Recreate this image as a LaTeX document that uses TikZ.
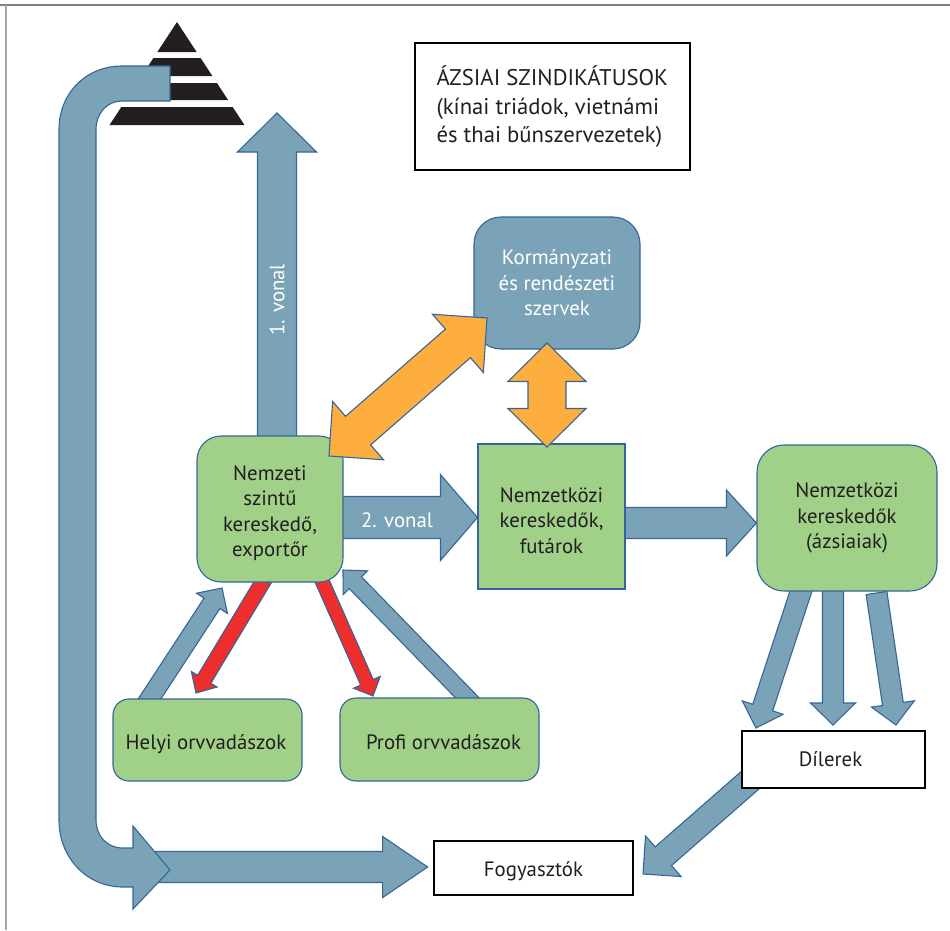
\documentclass[tikz,border=0pt]{standalone}
\usepackage{fontspec}
\setmainfont{PT Sans}
\usetikzlibrary{calc,backgrounds}

\definecolor{kekfill}{HTML}{7BA3B8}
\definecolor{kekvonal}{HTML}{34659B}
\definecolor{zold}{HTML}{A1D088}
\definecolor{narancs}{HTML}{FDAE3E}
\definecolor{piros}{HTML}{EE2D2D}
\definecolor{szoveg}{HTML}{231F20}

\tikzset{
    felirat/.style={font=\fontsize{20.8pt}{25.5pt}\selectfont,text=szoveg,align=center,inner sep=0pt},
    zoldbox/.style={felirat,draw=kekvonal,fill=zold,line width=1.1pt},
    feherbox/.style={felirat,draw=black,fill=white,line width=1.7pt},
    kekbox/.style={felirat,draw=kekvonal,fill=kekfill,line width=1.1pt,text=white,rounded corners=27pt},
    feherszoveg/.style={felirat,text=white},
    kekfolyam/.style={draw=kekvonal,fill=kekfill,line width=1.1pt,line join=miter},
    pirosfolyam/.style={draw=kekvonal,fill=piros,line width=1.1pt,line join=miter},
    narancsfolyam/.style={draw=kekvonal,fill=narancs,line width=1.1pt,line join=miter},
}

% kezdet, csucs, fel szar, fel fej, fej hossz
\newcommand{\folyam}[6][kekfolyam]{%
    \coordinate (fejalap) at ($(#3)!#6!(#2)$);
    \draw[#1] ($(#2)!#4!90:(#3)$) -- ($(fejalap)!#4!-90:(#2)$) -- ($(fejalap)!#5!-90:(#2)$) -- (#3)
    -- ($(fejalap)!#5!90:(#2)$) -- ($(fejalap)!#4!90:(#2)$) -- ($(#2)!#4!-90:(#3)$) -- cycle;
}
\newcommand{\ketfolyam}[6][narancsfolyam]{%
    \coordinate (fejA) at ($(#2)!#6!(#3)$);
    \coordinate (fejB) at ($(#3)!#6!(#2)$);
    \draw[#1] (#2) -- ($(fejA)!#5!90:(#3)$) -- ($(fejA)!#4!90:(#3)$) -- ($(fejB)!#4!-90:(#2)$) -- ($(fejB)!#5!-90:(#2)$)
    -- (#3) -- ($(fejB)!#5!90:(#2)$) -- ($(fejB)!#4!90:(#2)$) -- ($(fejA)!#4!-90:(#3)$) -- ($(fejA)!#5!-90:(#3)$) -- cycle;
}

\begin{document}
\begin{tikzpicture}[x=1pt,y=-1pt]
    \useasboundingbox (0,0) rectangle (950,930);

    \node[feherbox,minimum width=275pt,minimum height=127pt] (szindikatus) at (552.5,106.5)
        {\parbox{232pt}{\raggedright\fontsize{22.7pt}{28.5pt}\selectfont\rule{0pt}{20pt}ÁZSIAI SZINDIKÁTUSOK\\(kínai triádok, vietnámi\\és thai bűnszervezetek)}};
    \node[kekbox,minimum width=166pt,minimum height=132pt] (korm) at (557,283) {Kormányzati\\és rendészeti\\szervek};
    \node[zoldbox,rounded corners=24pt,minimum width=146pt,minimum height=146pt] (nemzeti) at (270,509) {\rule{0pt}{23pt}Nemzeti\\szintű\\kereskedő,\\exportőr};
    \node[zoldbox,minimum width=147pt,minimum height=145pt] (futar) at (551.5,516.5) {\rule{0pt}{23pt}Nemzetközi\\kereskedők,\\futárok};
    \node[zoldbox,rounded corners=27pt,minimum width=180pt,minimum height=146pt] (azsiai) at (847,518) {Nemzetközi\\kereskedők\\(ázsiaiak)};
    \node[zoldbox,rounded corners=16pt,minimum width=189pt,minimum height=82pt] (helyi) at (207.5,740) {\rule{0pt}{24pt}Helyi orvvadászok\hspace*{3pt}};
    \node[zoldbox,rounded corners=16pt,minimum width=199pt,minimum height=83pt] (profi) at (439.5,739.5) {\rule{0pt}{21pt}\hspace*{8pt}Profi orvvadászok};
    \node[feherbox,minimum width=183pt,minimum height=57pt] (diler) at (833.5,759.5) {Dílerek\hspace*{6pt}};
    \node[feherbox,minimum width=199pt,minimum height=54pt] (fogyaszto) at (533.5,868) {\rule{0pt}{21pt}Fogyasztók};

    \coordinate (v1ki) at ([xshift=7pt]nemzeti.center);
    \coordinate (v1be) at (277,113);
    \coordinate (v2ki) at ([yshift=-8.5pt]nemzeti.center);
    \coordinate (v2be) at ([yshift=-1pt]futar.west);
    \coordinate (futarki) at ([yshift=-6.5pt]futar.center);
    \coordinate (futarbe) at ([yshift=-5pt]azsiai.west);
    \coordinate (helyiki) at ([xshift=-63.5pt,yshift=32.6pt]helyi.center);
    \coordinate (helyibe) at ([xshift=-48pt,yshift=-79pt]nemzeti.center);
    \coordinate (profiki) at ([xshift=35pt,yshift=34.3pt]profi.center);
    \coordinate (profibe) at ([xshift=73pt,yshift=-61pt]nemzeti.center);
    \coordinate (pirosAki) at ([xshift=-3pt,yshift=-66pt]nemzeti.center);
    \coordinate (pirosAbe) at ([xshift=-11.5pt,yshift=47pt]helyi.center);
    \coordinate (pirosBki) at ([xshift=49.3pt,yshift=-65.7pt]nemzeti.center);
    \coordinate (pirosBbe) at ([xshift=-66.5pt,yshift=43.5pt]profi.center);
    \coordinate (dilerAki) at ([xshift=-43.5pt,yshift=-65.4pt]azsiai.center);
    \coordinate (dilerAbe) at ([xshift=-77.5pt,yshift=31.5pt]diler.center);
    \coordinate (dilerBki) at ([xshift=-14pt]azsiai.center);
    \coordinate (dilerBbe) at ([xshift=-.5pt,yshift=34.5pt]diler.center);
    \coordinate (dilerCki) at (876.5,593);
    \coordinate (dilerCbe) at ([xshift=62.5pt,yshift=34.5pt]diler.center);
    \coordinate (fogyki) at ([xshift=-67.5pt,yshift=-6.8pt]diler.center);
    \coordinate (fogybe) at ([xshift=109.5pt,yshift=-6pt]fogyaszto.center);
    \coordinate (hosszuki) at (155,867);
    \coordinate (hosszube) at ([xshift=-5.5pt,yshift=1pt]fogyaszto.west);
    \coordinate (kormA) at ([xshift=-70pt,yshift=-35pt]korm.center);
    \coordinate (nemzetiA) at ([xshift=59pt,yshift=53pt]nemzeti.center);
    \coordinate (kormB) at ([xshift=-10pt,yshift=-60pt]korm.center);
    \coordinate (futarB) at ([xshift=-4.5pt,yshift=69.5pt]futar.center);

    \begin{pgfonlayer}{background}
        \draw[line width=1.2pt,black!50] (0,5) -- (950,5);
        \draw[line width=1.2pt,black!35] (6,5) -- (6,930);

        \foreach \ya/\yb in {22/52,58/76,83/100,107/125}
            \fill[szoveg] ({177-.655*(\ya-22)},\ya) -- ({177+.655*(\ya-22)},\ya)
            -- ({177+.655*(\yb-22)},\yb) -- ({177-.655*(\yb-22)},\yb) -- cycle;

        \folyam{v1ki}{v1be}{19.5pt}{39.5pt}{39pt}
        \folyam{v2ki}{v2be}{21pt}{43pt}{37pt}
        \folyam{futarki}{futarbe}{15.5pt}{33pt}{30pt}
        \folyam{helyiki}{helyibe}{9.5pt}{18.5pt}{18.3pt}
        \folyam{profiki}{profibe}{8.5pt}{17pt}{17.7pt}
        \folyam[pirosfolyam]{pirosAki}{pirosAbe}{7.7pt}{15pt}{16pt}
        \folyam[pirosfolyam]{pirosBki}{pirosBbe}{6.9pt}{14.6pt}{15pt}
        \folyam{dilerAki}{dilerAbe}{10.5pt}{21.5pt}{21.5pt}
        \folyam{dilerBki}{dilerBbe}{10.5pt}{22.5pt}{22pt}
        \folyam{dilerCki}{dilerCbe}{10.5pt}{21.7pt}{21.3pt}
        \folyam{fogyki}{fogybe}{12.4pt}{27pt}{27pt}
        \folyam{hosszuki}{hosszube}{15.5pt}{30.5pt}{45pt}

        \draw[kekfolyam] (170,66) -- (122,66) .. controls (87,66) and (59,92) .. (59,130)
        -- (59,820) .. controls (59,858) and (87,887) .. (123,887)
        -- (133,887) -- (133,909) -- (170,870) -- (133,826) -- (133,848) -- (123,848)
        .. controls (107,848) and (96,836) .. (96,820) -- (96,130)
        .. controls (96,113) and (107,101) .. (122,101) -- (170,101) -- cycle;
    \end{pgfonlayer}

    \node[feherszoveg,rotate=90] (vonalA) at (277,300) {1. vonal};
    \node[feherszoveg] (vonalB) at (397,520) {2. vonal};

    \ketfolyam{kormA}{nemzetiA}{19pt}{38.7pt}{38.6pt}
    \ketfolyam{kormB}{futarB}{19pt}{39pt}{38.5pt}
\end{tikzpicture}
\end{document}
